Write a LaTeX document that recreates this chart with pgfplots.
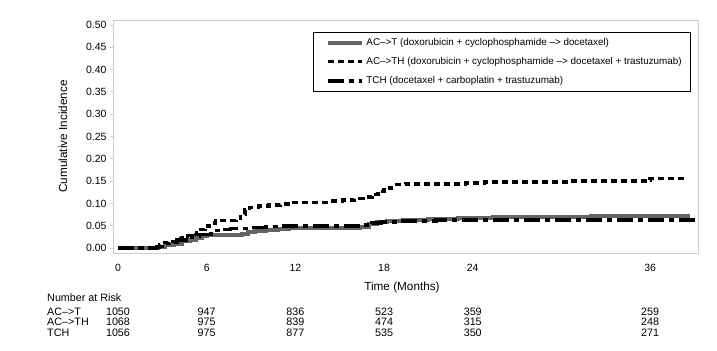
\documentclass[border=0pt]{standalone}
\usepackage{fontspec}
\setmainfont{Liberation Sans}
\usepackage{pgfplots}
\pgfplotsset{compat=1.18}
\definecolor{serT}{RGB}{100,100,100}
\definecolor{frame}{RGB}{205,205,205}
\begin{document}
\begin{tikzpicture}
\path[use as bounding box] (0,0) rectangle (717bp,-351bp);
\begin{axis}[
  at={(113bp,-253bp)}, anchor=south west,
  scale only axis, width=585bp, height=233bp,
  xmin=-0.338, xmax=39.24, ymin=-0.011, ymax=0.511,
  xtick={0,6,12,18,24,36},
  ytick={0,0.05,0.10,0.15,0.20,0.25,0.30,0.35,0.40,0.45,0.50},
  axis line style={frame, line width=1bp},
  tick align=outside, ytick pos=left, xtick pos=bottom,
  major tick length=3bp,
  ytick style={frame, line width=0.8bp},
  xtick style={draw=none},
  /pgf/number format/assume math mode=true,
  yticklabel style={/pgf/number format/fixed, /pgf/number format/fixed zerofill, /pgf/number format/precision=2},
  ticklabel style={font=\fontsize{10.5}{12}\selectfont},
  xticklabel style={yshift=-5bp},
  xlabel={Time (Months)},
  ylabel={Cumulative Incidence},
  every axis x label/.style={at={(axis description cs:0.494,-0.146)}, anchor=center, font=\fontsize{11.8}{13}\selectfont},
  every axis y label/.style={at={(axis description cs:-0.0855,0.5)}, rotate=90, anchor=center, font=\fontsize{11.8}{13}\selectfont},
  legend style={at={(axis description cs:0.988,0.9485)}, anchor=north east,
    draw=black, line width=0.6bp, inner xsep=7bp, inner ysep=4bp,
    row sep=6.5bp, font=\fontsize{9.9}{11}\selectfont,
    cells={anchor=west}},
  legend image code/.code={\path (0bp,0bp); \draw[#1] (6bp,0bp) -- (40bp,0bp);},
  clip=false,
]
\addplot[const plot, serT, line width=4bp] coordinates {
(0,0) (2.7,0.003) (3.2,0.006) (3.8,0.010) (4.3,0.015) (4.9,0.018) (5.3,0.022)
(5.7,0.027) (6.0,0.029) (8.4,0.032) (8.8,0.036) (9.3,0.039) (10.0,0.041)
(10.8,0.043) (11.6,0.045) (16.4,0.048) (17.0,0.054) (17.5,0.058) (18.2,0.061)
(19.3,0.063) (21.0,0.065) (23.0,0.067) (25.4,0.070) (32.0,0.073) (38.7,0.073)
};
\addlegendentry{AC–>T (doxorubicin + cyclophosphamide –> docetaxel)}
\addplot[const plot, black, line width=3.5bp, dash pattern=on 6bp off 4bp] coordinates {
(0,0) (2.4,0.003) (2.8,0.008) (3.0,0.012) (3.4,0.015) (3.9,0.020) (4.3,0.023)
(4.7,0.028) (5.0,0.031) (5.3,0.035) (5.6,0.042) (5.9,0.050) (6.2,0.056)
(6.6,0.062) (8.0,0.066) (8.3,0.075) (8.6,0.085) (8.9,0.091) (9.5,0.094)
(10.2,0.097) (11.0,0.099) (11.8,0.102) (14.3,0.105) (15.2,0.108) (16.0,0.111)
(16.6,0.114) (17.2,0.120) (17.6,0.127) (18.0,0.135) (18.5,0.142) (19.5,0.144)
(23.5,0.146) (24.8,0.148) (30.5,0.150) (35.8,0.153) (36.0,0.156) (38.3,0.156)
};
\addlegendentry{AC–>TH (doxorubicin + cyclophosphamide –> docetaxel + trastuzumab)}
\addplot[const plot, black, line width=3.5bp, dash pattern=on 16bp off 5bp on 5bp off 5bp] coordinates {
(0,0) (2.6,0.004) (3.0,0.010) (3.5,0.014) (4.0,0.018) (4.6,0.024) (5.0,0.027)
(5.5,0.030) (6.3,0.039) (7.0,0.042) (7.6,0.044) (9.0,0.046) (10.0,0.048)
(11.0,0.049) (16.6,0.052) (17.2,0.056) (17.8,0.059) (19.0,0.061) (21.5,0.063)
(39.2,0.063)
};
\addlegendentry{TCH (docetaxel + carboplatin + trastuzumab)}
% Number at risk table
\begin{scope}[every node/.style={font=\fontsize{10.8}{11}\selectfont, inner sep=0pt}]
\node[anchor=west] at (axis cs:-4.80,-0.110) {Number at Risk};
\node[anchor=west] at (axis cs:-4.80,-0.1435) {AC–>T};
\node[anchor=west] at (axis cs:-4.80,-0.166) {AC–>TH};
\node[anchor=west] at (axis cs:-4.80,-0.1905) {TCH};
\node at (axis cs:0,-0.1435) {1050};
\node at (axis cs:6,-0.1435) {947};
\node at (axis cs:12,-0.1435) {836};
\node at (axis cs:18,-0.1435) {523};
\node at (axis cs:24,-0.1435) {359};
\node at (axis cs:36,-0.1435) {259};
\node at (axis cs:0,-0.166) {1068};
\node at (axis cs:6,-0.166) {975};
\node at (axis cs:12,-0.166) {839};
\node at (axis cs:18,-0.166) {474};
\node at (axis cs:24,-0.166) {315};
\node at (axis cs:36,-0.166) {248};
\node at (axis cs:0,-0.1905) {1056};
\node at (axis cs:6,-0.1905) {975};
\node at (axis cs:12,-0.1905) {877};
\node at (axis cs:18,-0.1905) {535};
\node at (axis cs:24,-0.1905) {350};
\node at (axis cs:36,-0.1905) {271};
\end{scope}
\end{axis}
\end{tikzpicture}
\end{document}
